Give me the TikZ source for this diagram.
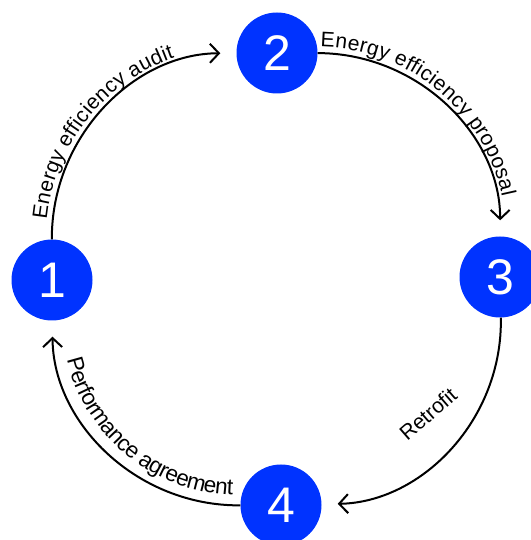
\documentclass[tikz,border=0pt]{standalone}
\usepackage{fontspec}
\setmainfont{Liberation Sans}
\usetikzlibrary{arrows.meta,decorations.text}
\definecolor{stageblue}{RGB}{0,51,255}
\newcommand\lblfont{\fontsize{21}{23}\selectfont}
\newcommand\lblfontb{\fontsize{22.5}{24}\selectfont}
\begin{document}
\begin{tikzpicture}[x=1pt,y=1pt,
  stage/.style={circle,fill=stageblue,text=white,minimum size=81pt,inner sep=0pt,
    font=\fontsize{50}{50}\selectfont},
  flow/.style={line width=2pt,-{Straight Barb[length=9pt,width=19pt]},shorten >=16pt},
  lbl/.style n args={3}{decorate,decoration={text along path,text align={center,#1},raise=#2,
    text={|\lblfont|#3}}},
  lblb/.style n args={3}{decorate,decoration={text along path,text align={center,#1},raise=#2,
    text={|\lblfontb|#3}}}
]
\useasboundingbox (0,0) rectangle (530,540);
\node[stage] (n1) at (52,260) {1};
\node[stage] (n2) at (277,487) {2};
\node[stage] (n3) at (500,263) {3};
\node[stage] (n4) at (281,35) {4};

\draw[flow] (n1) to[bend left=45] (n2);
\draw[flow] (n2) to[bend left=45] (n3);
\draw[flow] (n3) to[bend left=45] (n4);
\draw[flow] (n4) to[bend left=45] (n1);

\path[lbl={right indent=42pt}{6pt}{Energy efficiency audit}] (n1) to[bend left=45] (n2);
\path[lbl={right indent=36pt}{6pt}{Energy efficiency proposal}] (n2) to[bend left=45] (n3);
\node[font=\lblfont,rotate=41,inner sep=0pt] (lr) at (428,126) {Retrofit};
\path[lblb={left indent=34pt}{10pt}{Performance agreement}] (n1) to[bend right=45] (n4);
\end{tikzpicture}
\end{document}
